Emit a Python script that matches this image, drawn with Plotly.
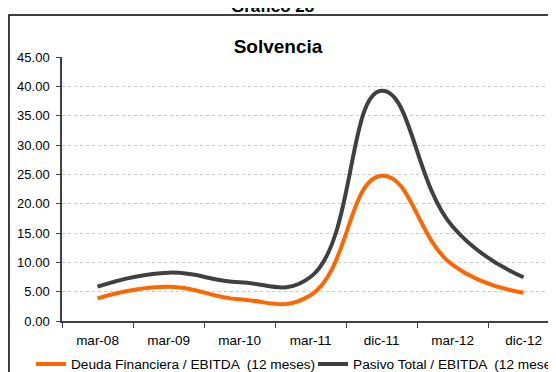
import plotly.graph_objects as go

periodos = ["mar-08", "mar-09", "mar-10", "mar-11", "dic-11", "mar-12", "dic-12"]
deuda_fin_ebitda = [3.87, 5.85, 3.70, 4.40, 24.77, 9.55, 4.83]
pasivo_total_ebitda = [5.85, 8.24, 6.60, 7.50, 39.25, 16.10, 7.45]

FONT = "Liberation Sans, Arial, sans-serif"

fig = go.Figure()
fig.add_trace(go.Scatter(
    x=periodos, y=deuda_fin_ebitda,
    name="Deuda Financiera / EBITDA  (12 meses)", legend="legend",
    mode="lines", line=dict(color="#FF6600", width=4, shape="spline", smoothing=1.3),
))
fig.add_trace(go.Scatter(
    x=periodos, y=pasivo_total_ebitda,
    name="Pasivo Total / EBITDA  (12 meses)", legend="legend2",
    mode="lines", line=dict(color="#404040", width=4, shape="spline", smoothing=1.3),
))

# outer chart frame (cropped on the right and bottom like the original)
fig.add_shape(type="rect", xref="paper", yref="paper",
              x0=-0.1056, x1=1.2, y0=-0.3, y1=1.159,
              line=dict(color="black", width=1.5), fillcolor="rgba(0,0,0,0)")

fig.add_annotation(text="<b>Gráfico 28</b>", xref="paper", yref="paper",
                   x=0.42, y=1.193, yanchor="middle", showarrow=False,
                   font=dict(size=17, color="black", family=FONT))

legend_style = dict(orientation="h", xanchor="left", yanchor="middle",
                    font=dict(size=13.7, color="black", family=FONT),
                    bgcolor="rgba(0,0,0,0)")

fig.update_layout(
    width=556, height=372,
    margin=dict(l=54, r=0, t=49, b=59, autoexpand=False),
    plot_bgcolor="white", paper_bgcolor="white",
    font=dict(family=FONT, color="black", size=13),
    title=dict(text="<b>Solvencia</b>", x=0.4856, xanchor="center",
               y=0.898, yanchor="middle",
               font=dict(size=19, color="black", family=FONT)),
    showlegend=True,
    legend=dict(x=-0.0618, y=-0.163, **legend_style),
    legend2=dict(x=0.5, y=-0.163, **legend_style),
    xaxis=dict(
        type="category", range=[-0.5, 6.57],
        tickson="boundaries", ticks="outside", ticklen=5, tickcolor="#404040",
        ticklabelstandoff=6,
        showline=True, linecolor="#404040", linewidth=1.5,
        showgrid=False, tickfont=dict(size=13.5, color="black"),
    ),
    yaxis=dict(
        range=[0, 45], dtick=5, tickformat=".2f",
        ticks="outside", ticklen=4, tickcolor="#404040", ticklabelstandoff=4,
        showline=True, linecolor="#404040", linewidth=1.5,
        showgrid=True, gridcolor="#c8c8c8", griddash="dot", gridwidth=1,
        zeroline=False, tickfont=dict(size=13, color="black"),
    ),
)

fig.write_html("out.html")
